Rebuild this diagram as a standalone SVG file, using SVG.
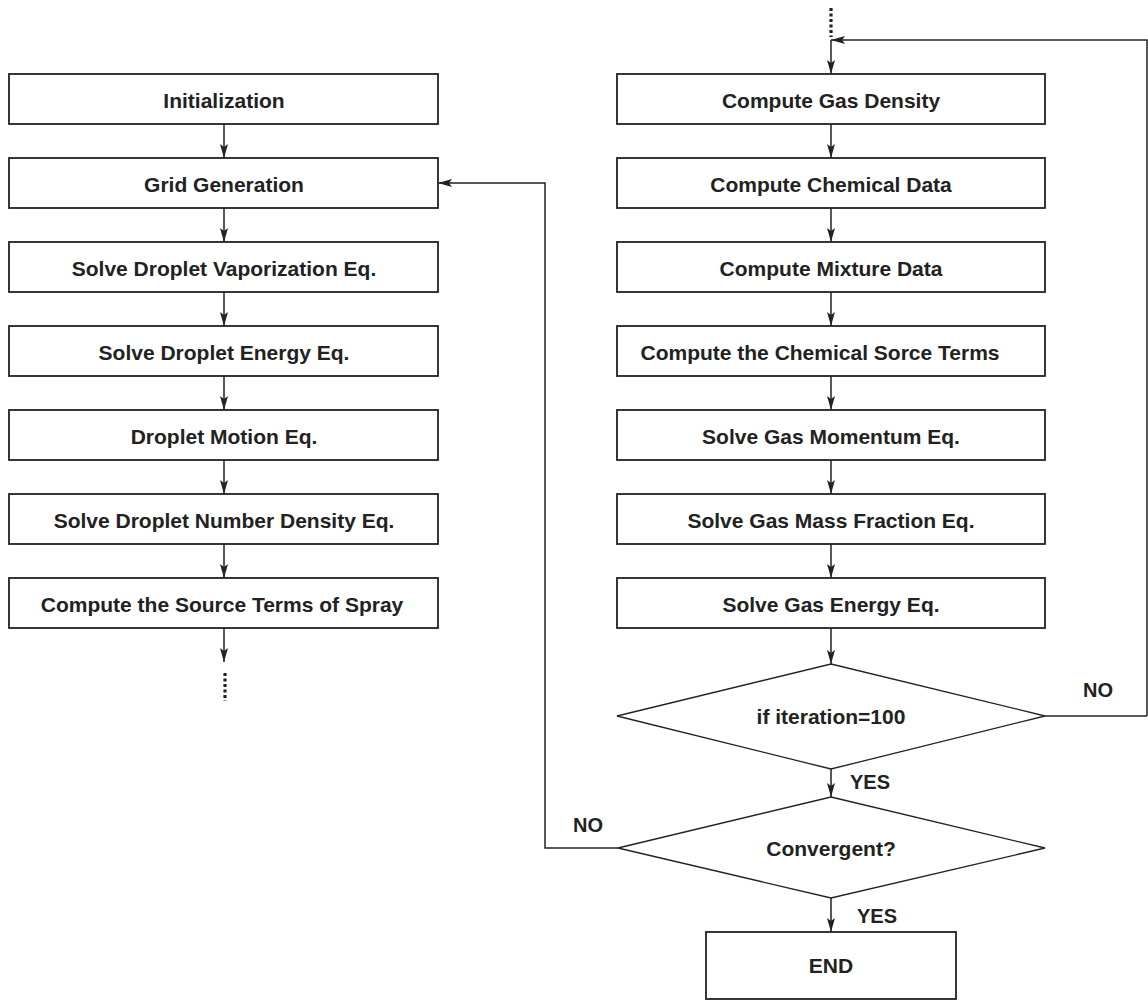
<svg xmlns="http://www.w3.org/2000/svg" width="1148" height="1001" viewBox="0 0 1148 1001">
<style>
.box{fill:#fff;stroke:#222;stroke-width:1.8}
.dia{fill:#fff;stroke:#222;stroke-width:1.3}
.t{font-family:"Liberation Sans",Arial,sans-serif;font-weight:bold;font-size:21px;fill:#222;text-anchor:middle}
.lbl{font-family:"Liberation Sans",Arial,sans-serif;font-weight:bold;font-size:20px;fill:#222}
.c{fill:none;stroke:#222;stroke-width:1.5}
.dot{fill:none;stroke:#222;stroke-width:3.2;stroke-dasharray:3 2.5}
</style>
<defs>
<marker id="ah" viewBox="0 0 14 8" refX="14" refY="4" markerWidth="14" markerHeight="8" markerUnits="userSpaceOnUse" orient="auto">
<path d="M0,0 L14,4 L0,8 L3,4 Z" fill="#222"/>
</marker>
</defs>
<rect width="1148" height="1001" fill="#fff"/>
<g id="connectors">
<line class="c" x1="224" y1="124" x2="224" y2="158" marker-end="url(#ah)"/>
<line class="c" x1="224" y1="208" x2="224" y2="242" marker-end="url(#ah)"/>
<line class="c" x1="224" y1="292" x2="224" y2="326" marker-end="url(#ah)"/>
<line class="c" x1="224" y1="376" x2="224" y2="410" marker-end="url(#ah)"/>
<line class="c" x1="224" y1="460" x2="224" y2="494" marker-end="url(#ah)"/>
<line class="c" x1="224" y1="544" x2="224" y2="578" marker-end="url(#ah)"/>
<line class="c" x1="224" y1="628" x2="224" y2="662" marker-end="url(#ah)"/>
<line class="dot" x1="225" y1="673" x2="225" y2="701"/>
<line class="dot" x1="831" y1="8" x2="831" y2="37"/>
<polyline class="c" points="1147,716 1147,40 831,40" marker-end="url(#ah)"/>
<line class="c" x1="831" y1="40" x2="831" y2="74" marker-end="url(#ah)"/>
<line class="c" x1="831" y1="124" x2="831" y2="158" marker-end="url(#ah)"/>
<line class="c" x1="831" y1="208" x2="831" y2="242" marker-end="url(#ah)"/>
<line class="c" x1="831" y1="292" x2="831" y2="326" marker-end="url(#ah)"/>
<line class="c" x1="831" y1="376" x2="831" y2="410" marker-end="url(#ah)"/>
<line class="c" x1="831" y1="460" x2="831" y2="494" marker-end="url(#ah)"/>
<line class="c" x1="831" y1="544" x2="831" y2="578" marker-end="url(#ah)"/>
<line class="c" x1="831" y1="628" x2="831" y2="664" marker-end="url(#ah)"/>
<line class="c" x1="1045" y1="716" x2="1147" y2="716"/>
<line class="c" x1="831" y1="769" x2="831" y2="797" marker-end="url(#ah)"/>
<line class="c" x1="831" y1="898" x2="831" y2="932" marker-end="url(#ah)"/>
<polyline class="c" points="618,848 545,848 545,183 438,183" marker-end="url(#ah)"/>
<text class="lbl" x="1083" y="697">NO</text>
<text class="lbl" x="850" y="789">YES</text>
<text class="lbl" x="573" y="832">NO</text>
<text class="lbl" x="857" y="923">YES</text>
</g>
<g id="n1"><rect class="box" x="9" y="74" width="429" height="50"/><text class="t" x="224" y="107.5">Initialization</text></g>
<g id="n2"><rect class="box" x="9" y="158" width="429" height="50"/><text class="t" x="224" y="191.5">Grid Generation</text></g>
<g id="n3"><rect class="box" x="9" y="242" width="429" height="50"/><text class="t" x="224" y="275.5">Solve Droplet Vaporization Eq.</text></g>
<g id="n4"><rect class="box" x="9" y="326" width="429" height="50"/><text class="t" x="224" y="359.5">Solve Droplet Energy Eq.</text></g>
<g id="n5"><rect class="box" x="9" y="410" width="429" height="50"/><text class="t" x="224" y="443.5">Droplet Motion Eq.</text></g>
<g id="n6"><rect class="box" x="9" y="494" width="429" height="50"/><text class="t" x="224" y="527.5">Solve Droplet Number Density Eq.</text></g>
<g id="n7"><rect class="box" x="9" y="578" width="429" height="50"/><text class="t" x="222" y="611.5">Compute the Source Terms of Spray</text></g>
<g id="r1"><rect class="box" x="617" y="74" width="428" height="50"/><text class="t" x="831" y="107.5">Compute Gas Density</text></g>
<g id="r2"><rect class="box" x="617" y="158" width="428" height="50"/><text class="t" x="831" y="191.5">Compute Chemical Data</text></g>
<g id="r3"><rect class="box" x="617" y="242" width="428" height="50"/><text class="t" x="831" y="275.5">Compute Mixture Data</text></g>
<g id="r4"><rect class="box" x="617" y="326" width="428" height="50"/><text class="t" x="820" y="359.5">Compute the Chemical Sorce Terms</text></g>
<g id="r5"><rect class="box" x="617" y="410" width="428" height="50"/><text class="t" x="831" y="443.5">Solve Gas Momentum Eq.</text></g>
<g id="r6"><rect class="box" x="617" y="494" width="428" height="50"/><text class="t" x="831" y="527.5">Solve Gas Mass Fraction Eq.</text></g>
<g id="r7"><rect class="box" x="617" y="578" width="428" height="50"/><text class="t" x="831" y="611.5">Solve Gas Energy Eq.</text></g>
<g id="d1"><polygon class="dia" points="831,664 1045,716 831,769 617,716"/><text class="t" x="831" y="724">if iteration=100</text></g>
<g id="d2"><polygon class="dia" points="831,797 1045,848 831,898 618,848"/><text class="t" x="831" y="856">Convergent?</text></g>
<g id="end"><rect class="box" x="706" y="932" width="250" height="67"/><text class="t" x="831" y="973">END</text></g>
</svg>
